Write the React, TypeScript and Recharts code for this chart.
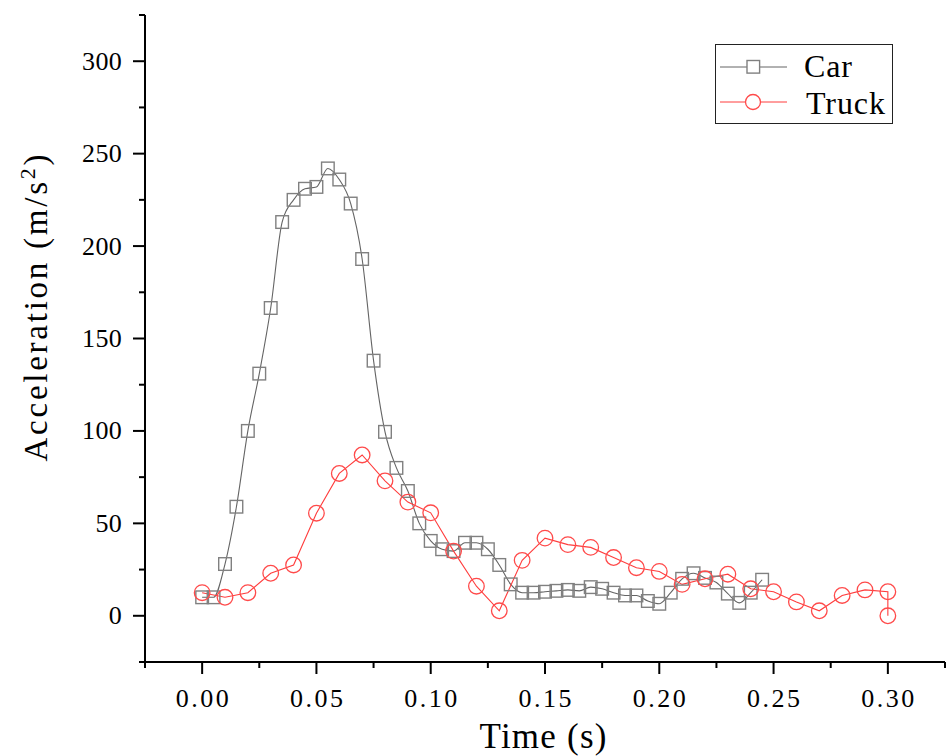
import { LineChart, Line, XAxis, YAxis, Legend } from 'recharts'

const carTime = [
  0, 0.005, 0.01, 0.015, 0.02, 0.025, 0.03, 0.035, 0.04, 0.045,
  0.05, 0.055, 0.06, 0.065, 0.07, 0.075, 0.08, 0.085, 0.09, 0.095,
  0.1, 0.105, 0.11, 0.115, 0.12, 0.125, 0.13, 0.135, 0.14, 0.145,
  0.15, 0.155, 0.16, 0.165, 0.17, 0.175, 0.18, 0.185, 0.19, 0.195,
  0.2, 0.205, 0.21, 0.215, 0.22, 0.225, 0.23, 0.235, 0.24, 0.245,
]
const carAccel = [
  10, 10, 28, 59, 100, 131, 166.5, 213, 225, 231,
  232, 242, 236, 223, 193, 138, 99.5, 80, 67.5, 50,
  40.5, 36, 35, 39.5, 39.5, 36, 27.5, 17, 12.5, 12.5,
  13, 13.5, 14, 13.5, 15.5, 14.6, 12.5, 11, 11, 8,
  6.5, 12.5, 20, 23, 20.5, 18, 12, 7, 12.5, 19.5,
]

const truckTime = [
  0, 0.01, 0.02, 0.03, 0.04, 0.05, 0.06, 0.07, 0.08, 0.09,
  0.1, 0.11, 0.12, 0.13, 0.14, 0.15, 0.16, 0.17, 0.18, 0.19,
  0.2, 0.21, 0.22, 0.23, 0.24, 0.25, 0.26, 0.27, 0.28, 0.29,
  0.3, 0.3,
]
const truckAccel = [
  12.5, 10, 12.5, 23, 27.5, 55.5, 77, 87, 73, 61.5,
  55.7, 35, 16, 2.7, 30, 42, 38.5, 37, 31.5, 26,
  24, 17, 20, 22.5, 14.6, 13, 7.5, 2.7, 11, 14,
  13, 0,
]

const xTicks = [
  -0.025, 0, 0.025, 0.05, 0.075, 0.1, 0.125, 0.15, 0.175,
  0.2, 0.225, 0.25, 0.275, 0.3, 0.325,
]
const xLabels = ['0.00', '0.05', '0.10', '0.15', '0.20', '0.25', '0.30']
const yTicks = [-25, 0, 25, 50, 75, 100, 125, 150, 175, 200, 225, 250, 275, 300, 325]

const carData = carTime.map((t, i) => ({ t, a: carAccel[i] }))
const truckData = truckTime.map((t, i) => ({ t, a: truckAccel[i] }))

const FONT = '"Liberation Serif", "Times New Roman", serif'
const CAR_LINE = '#646464'
const CAR_MARK = '#808080'
const TRUCK_LINE = '#ff3c3c'
const TRUCK_MARK = '#ff4a4a'

function XTick(props: any) {
  const { x, y, payload } = props
  const label = xLabels.find((l) => Math.abs(Number(l) - payload.value) < 1e-6)
  return (
    <g>
      <line x1={x} y1={y} x2={x} y2={y + (label ? 12 : 6)} stroke="#000" strokeWidth={2} />
      {label && (
        <text
          x={x}
          y={y + 45}
          textAnchor="middle"
          fontFamily={FONT}
          fontSize={26}
          textLength={53}
          lengthAdjust="spacing"
          fill="#000"
        >
          {label}
        </text>
      )}
    </g>
  )
}

function YTick(props: any) {
  const { x, y, payload } = props
  const major = payload.value % 50 === 0
  return (
    <g>
      <line x1={x} y1={y} x2={x - (major ? 12 : 6)} y2={y} stroke="#000" strokeWidth={2} />
      {major && (
        <text
          x={x - 23}
          y={y + 8.5}
          textAnchor="end"
          fontFamily={FONT}
          fontSize={26}
          letterSpacing={0.3}
          fill="#000"
        >
          {payload.value}
        </text>
      )}
    </g>
  )
}

// axis titles ignore the props recharts clones in and sit where the reference has them
function XTitle() {
  return (
    <text
      x={543}
      y={748}
      textAnchor="middle"
      fontFamily={FONT}
      fontSize={35}
      textLength={127}
      lengthAdjust="spacing"
      fill="#000"
    >
      Time (s)
    </text>
  )
}

function YTitle() {
  return (
    <text
      transform="translate(47,308) rotate(-90)"
      textAnchor="middle"
      fontFamily={FONT}
      fontSize={33}
      textLength={307}
      lengthAdjust="spacing"
      fill="#000"
    >
      Acceleration (m/s<tspan dy={-12} fontSize={22}>2</tspan><tspan dy={12}>)</tspan>
    </text>
  )
}

function SquareDot(props: any) {
  const { cx, cy } = props
  if (cx == null || cy == null) return null
  return (
    <rect x={cx - 6.3} y={cy - 6.3} width={12.6} height={12.6} fill="none" stroke={CAR_MARK} strokeWidth={1.4} />
  )
}

function CircleDot(props: any) {
  const { cx, cy } = props
  if (cx == null || cy == null) return null
  return <circle cx={cx} cy={cy} r={7.8} fill="none" stroke={TRUCK_MARK} strokeWidth={1.3} />
}

function LegendBox() {
  return (
    <svg width={179} height={81} style={{ display: 'block' }}>
      <rect x={0.5} y={0.5} width={177} height={79} fill="#fff" stroke="#222" strokeWidth={1} />
      <line x1={5} y1={23} x2={72} y2={23} stroke={CAR_LINE} strokeWidth={1} />
      <rect x={32} y={16.5} width={12.6} height={12.6} fill="#fff" stroke={CAR_MARK} strokeWidth={1.4} />
      <text x={89} y={33} fontFamily={FONT} fontSize={32} textLength={48} lengthAdjust="spacing">Car</text>
      <line x1={5} y1={58} x2={72} y2={58} stroke={TRUCK_LINE} strokeWidth={1} />
      <circle cx={38} cy={58} r={7.5} fill="#fff" stroke={TRUCK_MARK} strokeWidth={1.3} />
      <text x={91} y={70} fontFamily={FONT} fontSize={32} textLength={79} lengthAdjust="spacing">Truck</text>
    </svg>
  )
}

export default function App() {
  return (
    <div style={{ position: 'absolute', left: 0, top: 0, width: 947, height: 756, background: '#fff' }}>
      <LineChart width={947} height={756} margin={{ top: 15, right: 2, bottom: 0, left: 0 }}>
        <XAxis
          type="number"
          dataKey="t"
          domain={[-0.025, 0.325]}
          ticks={xTicks}
          interval={0}
          tickSize={0}
          tickMargin={0}
          tickLine={false}
          tick={<XTick />}
          height={94}
          axisLine={{ stroke: '#000', strokeWidth: 2 }}
          allowDuplicatedCategory={false}
          label={<XTitle />}
        />
        <YAxis
          type="number"
          domain={[-25, 325]}
          ticks={yTicks}
          interval={0}
          tickSize={0}
          tickMargin={0}
          tickLine={false}
          tick={<YTick />}
          width={145}
          axisLine={{ stroke: '#000', strokeWidth: 2 }}
          label={<YTitle />}
        />
        <Legend
          layout="vertical"
          align="center"
          verticalAlign="middle"
          wrapperStyle={{ position: 'absolute', left: 715, top: 44, width: 179, height: 81 }}
          content={() => <LegendBox />}
        />
        <Line
          data={carData}
          dataKey="a"
          name="Car"
          type="monotone"
          stroke={CAR_LINE}
          strokeWidth={1.1}
          dot={<SquareDot />}
          activeDot={false}
          isAnimationActive={false}
        />
        <Line
          data={truckData}
          dataKey="a"
          name="Truck"
          type="linear"
          stroke={TRUCK_LINE}
          strokeWidth={1.1}
          dot={<CircleDot />}
          activeDot={false}
          isAnimationActive={false}
        />
      </LineChart>
    </div>
  )
}
